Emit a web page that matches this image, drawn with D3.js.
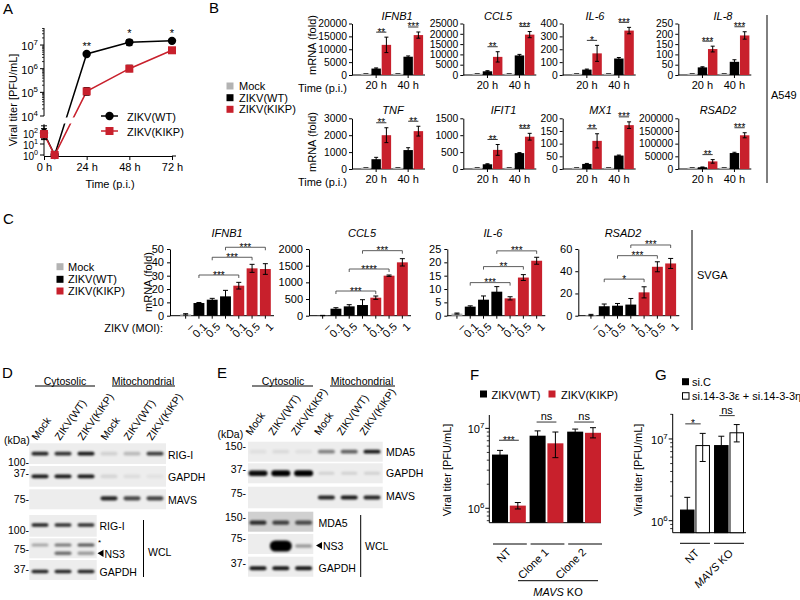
<!DOCTYPE html>
<html><head><meta charset="utf-8">
<script src="https://cdn.jsdelivr.net/npm/d3@7"></script>
<style>
body{margin:0;background:#fff;}
svg{display:block;font-family:"Liberation Sans",Arial,Helvetica,sans-serif;}
</style></head>
<body><svg id="fig" width="800" height="600"></svg>
<script>
// ================= DATA =================
// Panel A
const timesA = [0, 6, 24, 48, 72];
const timeTicksA = [0, 24, 48, 72];
const wtA = [100, 1, 4.2e6, 1.3e7, 1.5e7];
const wtLoA = [25, 1, 3.8e6, 9.5e6, 1.35e7];
const wtHiA = [450, 1, 4.6e6, 1.7e7, 1.7e7];
const kikpA = [80, 1, 1.1e5, 1.0e6, 6.0e6];
const kikpLoA = [30, 1, 7.5e4, 7.5e5, 4.6e6];
const kikpHiA = [250, 1, 1.6e5, 1.4e6, 7.8e6];
const sigTimesA = [24, 48, 72];
const sigA = ["**", "*", "*"];
const seriesA = ["ZIKV(WT)", "ZIKV(KIKP)"];

// Panel B
const genesB = ["IFNB1", "CCL5", "IL-6", "IL-8", "TNF", "IFIT1", "MX1", "RSAD2"];
const timesB = ["20 h", "40 h"];
const seriesB = ["Mock", "ZIKV(WT)", "ZIKV(KIKP)"];
const mockB = [[60,60],[80,80],[2,2],[1,1],[20,20],[10,10],[1,1],[300,300]];
const wtB = [[2500,7100],[1800,9500],[42,128],[37,64],[580,1120],[140,470],[20,53],[7000,63000]];
const wtErrB = [[250,300],[300,500],[4,8],[3,10],[110,140],[15,15],[2,2],[1000,3000]];
const kikpB = [[11700,15500],[8800,19600],[168,345],[126,192],[2000,2240],[565,955],[111,173],[30000,133000]];
const kikpErrB = [[3000,1200],[2500,1500],[62,25],[14,18],[440,290],[160,100],[28,13],[7000,10000]];
const yMaxB = [20000, 25000, 400, 250, 3000, 1500, 200, 200000];
const yStepB = [5000, 5000, 100, 50, 1000, 500, 50, 50000];
const sigB = [["**","***"],["**","***"],["*","***"],["***","***"],["**","**"],["**","***"],["**","***"],["**","***"]];

// Panel C
const genesC = ["IFNB1", "CCL5", "IL-6", "RSAD2"];
const moiC = ["–", "0.1", "0.5", "1", "0.1", "0.5", "1"];
const virusC = ["Mock", "ZIKV(WT)", "ZIKV(WT)", "ZIKV(WT)", "ZIKV(KIKP)", "ZIKV(KIKP)", "ZIKV(KIKP)"];
const valC = [[1, 9.5, 12, 14.5, 22.5, 35.5, 35], [5, 210, 280, 320, 540, 1200, 1600], [0.8, 3.4, 6.0, 9.0, 6.5, 14.3, 20.6], [0.6, 8.5, 9, 10, 21, 44, 47]];
const errC = [[0.5, 0.4, 1, 4.5, 2.5, 3, 4], [5, 30, 50, 160, 50, 20, 110], [0.2, 0.3, 1.4, 1.9, 0.6, 1.1, 1.3], [0.6, 2, 2, 5.5, 5, 4.5, 4.5]];
const yMaxC = [50, 2000, 25, 60];
const yStepC = [10, 500, 5, 20];
const bracketC = [[30.5, 43.8, 51.3], [740, 1400, 1950], [12.4, 18.4, 24.3], [32.9, 54, 63.6]];
const starsC = [["***","***","***"], ["***","****","***"], ["***","**","***"], ["*","***","***"]];

// Panels D/E (band intensities, 0..1)
const lanesDE = ["Mock", "ZIKV(WT)", "ZIKV(KIKP)", "Mock", "ZIKV(WT)", "ZIKV(KIKP)"];
const blotD_RIGI = [0.85, 0.8, 0.9, 0.12, 0.22, 0.75];
const blotD_GAPDH = [0.9, 0.9, 0.9, 0.1, 0.07, 0.05];
const blotD_MAVS = [0, 0, 0, 0.85, 0.7, 0.72];
const blotD_WCL_RIGI = [0.85, 0.8, 0.8];
const blotD_WCL_NS3star = [0.3, 0.5, 0.65];
const blotD_WCL_NS3 = [0, 0.55, 0.35];
const blotD_WCL_GAPDH = [0.85, 0.85, 0.85];
const blotE_MDA5 = [0.06, 0.08, 0.06, 0.45, 0.6, 0.9];
const blotE_GAPDH = [0.95, 1, 1, 0.12, 0.12, 0.12];
const blotE_MAVS = [0, 0, 0, 0.85, 0.9, 0.85];
const blotE_WCL_MDA5 = [0.8, 0.7, 0.65];
const blotE_WCL_NS3 = [0, 1, 0.35];
const blotE_WCL_GAPDH = [0.9, 0.9, 0.9];

// Panel F
const groupsF = ["NT", "Clone 1", "Clone 2"];
const fWT = [4.7e6, 8.1e6, 9.1e6];
const fWTLo = [4.1e6, 6.9e6, 8.4e6];
const fWTHi = [5.3e6, 9.3e6, 9.8e6];
const fKIKP = [1.08e6, 6.5e6, 8.8e6];
const fKIKPLo = [0.98e6, 4.3e6, 7.6e6];
const fKIKPHi = [1.18e6, 9.0e6, 1.02e7];
const sigF = ["***", "ns", "ns"];
const sigLevelF = [7.1e6, 1.2e7, 1.2e7];

// Panel G
const groupsG = ["NT", "MAVS KO"];
const gSiC = [1.35e6, 8.3e6];
const gSiCLo = [0.95e6, 6.2e6];
const gSiCHi = [1.93e6, 1.08e7];
const gSi1433 = [8.3e6, 1.19e7];
const gSi1433Lo = [5.3e6, 9.2e6];
const gSi1433Hi = [1.17e7, 1.5e7];
const sigG = ["*", "ns"];
const sigLevelG = [1.53e7, 1.93e7];

// ================= DRAWING =================
const RED = "#c8202c", GRAY = "#b3b3b3";
const svg = d3.select("#fig");
const defs = svg.append("defs");
defs.append("filter").attr("id", "blur").attr("x", "-50%").attr("y", "-100%").attr("width", "200%").attr("height", "300%")
  .append("feGaussianBlur").attr("stdDeviation", 0.9);

function txt(g, x, y, s, o = {}) {
  const t = g.append("text").attr("x", x).attr("y", y).text(s)
    .attr("font-size", o.size || 11).attr("text-anchor", o.anchor || "start")
    .attr("dominant-baseline", o.base || "central").attr("fill", o.fill || "#000");
  if (o.italic) t.attr("font-style", "italic");
  if (o.rotate != null) t.attr("transform", `rotate(${o.rotate},${x},${y})`);
  return t;
}
function pow10(g, x, y, e, size = 11) {
  const t = g.append("text").attr("x", x).attr("y", y).attr("font-size", size)
    .attr("text-anchor", "end").attr("dominant-baseline", "central");
  t.append("tspan").text("10");
  t.append("tspan").attr("dy", -4).attr("font-size", size * 0.72).text(e);
  return t;
}
function line(g, x1, y1, x2, y2, w = 1, c = "#000") {
  return g.append("line").attr("x1", x1).attr("y1", y1).attr("x2", x2).attr("y2", y2)
    .attr("stroke", c).attr("stroke-width", w);
}
function styleAxis(sel, size = 11) {
  sel.attr("font-family", null).attr("font-size", size);
  sel.selectAll("text").attr("fill", "#000");
  sel.selectAll("line,path").attr("stroke", "#000");
}
function errBar(g, x, y1, y2, cap = 5) {
  line(g, x, y1, x, y2, 1);
  line(g, x - cap / 2, y1, x + cap / 2, y1, 1);
  line(g, x - cap / 2, y2, x + cap / 2, y2, 1);
  return g;
}
function stars(g, cx, lineY, s, size = 11) {
  if (s === "ns") txt(g, cx, lineY - 6, s, { anchor: "middle", size: 11 });
  else txt(g, cx, lineY + 3.5, s, { anchor: "middle", size, base: "alphabetic" });
}

// panel letters
[["A", 3, 14], ["B", 209, 13], ["C", 3, 224], ["D", 2, 378], ["E", 217, 378], ["F", 470, 380], ["G", 655, 380]]
  .forEach(([s, x, y]) => txt(svg, x, y, s, { size: 15, base: "alphabetic" }));

// ---------- Panel A ----------
(function () {
  const g = svg.append("g");
  const x = d3.scaleLinear().domain([0, 72]).range([44, 172]);
  const yl = d3.scaleLinear().domain([0, 2.8, 4, 7.72]).range([155, 124.2, 116, 28]);
  const y = v => yl(Math.log10(v));
  line(g, 44, 28, 44, 116);
  line(g, 44, 124.2, 44, 156);
  [4, 5, 6, 7].forEach(k => { line(g, 40, yl(k), 44, yl(k)); pow10(g, 38, yl(k) + 1, k); });
  [0, 1, 2].forEach(k => { line(g, 40, yl(k), 44, yl(k)); pow10(g, 38, yl(k) + 1, k, 10); });
  for (let k = 4; k <= 7; k++) for (let m = 2; m <= 9; m++) {
    const v = k + Math.log10(m); if (v <= 7.72) line(g, 42, yl(v), 44, yl(v), 0.8);
  }
  g.append("g").attr("transform", "translate(0,156)")
    .call(d3.axisBottom(x).tickValues(timeTicksA).tickFormat(d => d + " h").tickSize(4).tickSizeOuter(0)).call(styleAxis);
  line(g, 172, 156, 176, 156);
  txt(g, 110, 184, "Time (p.i.)", { anchor: "middle" });
  txt(g, 13, 100, "Viral titer [PFU/mL]", { anchor: "middle", rotate: -90 });
  const cp = defs.append("clipPath").attr("id", "clipA");
  cp.append("rect").attr("x", 0).attr("y", 0).attr("width", 200).attr("height", 117.5);
  cp.append("rect").attr("x", 0).attr("y", 123.5).attr("width", 200).attr("height", 60);
  const pg = g.append("g").attr("clip-path", "url(#clipA)");
  const mk = (vals) => timesA.map((t, i) => ({ t, v: vals[i] }));
  const ln = d3.line().x(d => x(d.t)).y(d => y(d.v));
  pg.append("path").attr("d", ln(mk(wtA))).attr("fill", "none").attr("stroke", "#000").attr("stroke-width", 1.5);
  pg.append("path").attr("d", ln(mk(kikpA))).attr("fill", "none").attr("stroke", RED).attr("stroke-width", 1.5);
  timesA.forEach((t, i) => {
    if (wtLoA[i] !== wtHiA[i]) errBar(g, x(t), y(wtLoA[i]), y(wtHiA[i]), 6);
    if (kikpLoA[i] !== kikpHiA[i]) errBar(g, x(t), y(kikpLoA[i]), y(kikpHiA[i]), 6);
  });
  g.selectAll(null).data(timesA).join("circle").attr("cx", d => x(d)).attr("cy", (d, i) => y(wtA[i])).attr("r", 4.2).attr("fill", "#000");
  g.selectAll(null).data(timesA).join("rect").attr("x", d => x(d) - 4).attr("y", (d, i) => y(kikpA[i]) - 4)
    .attr("width", 8).attr("height", 8).attr("fill", RED);
  sigTimesA.forEach((t, i) => {
    const idx = timesA.indexOf(t);
    txt(g, x(t), y(wtHiA[idx]) - 3, sigA[i], { anchor: "middle", base: "alphabetic" });
  });
  line(g, 101, 116, 118, 116, 1.5);
  g.append("circle").attr("cx", 109.5).attr("cy", 116).attr("r", 4.2).attr("fill", "#000");
  txt(g, 127, 116.5, seriesA[0]);
  line(g, 101, 131, 118, 131, 1.5, RED);
  g.append("rect").attr("x", 105.5).attr("y", 127).attr("width", 8).attr("height", 8).attr("fill", RED);
  txt(g, 127, 131.5, seriesA[1]);
})();

// ---------- Panel B ----------
const layB = {
  x0: [352, 463.3, 562.7, 678.3, 352, 463.3, 562.7, 678.3],
  yTop: [23.5, 23.5, 23.5, 23.5, 118.3, 118.3, 118.3, 118.3],
  yBot: [75, 75, 75, 75, 169, 169, 169, 169],
  titleX: [397, 498, 595, 723, 393, 503.5, 600.5, 718],
  titleY: [16, 16, 16, 16, 110, 110, 110, 110]
};
function chartB(i) {
  const x0 = layB.x0[i], yT = layB.yTop[i], yB = layB.yBot[i];
  const g = svg.append("g");
  const y = d3.scaleLinear().domain([0, yMaxB[i]]).range([yB, yT]);
  const xo = d3.scaleBand().domain(timesB).range([x0 + 8.8, x0 + 71.5]).paddingInner(0.04);
  const xi = d3.scaleBand().domain(seriesB).range([0, xo.bandwidth()]);
  g.append("g").attr("transform", `translate(${x0},0)`)
    .call(d3.axisLeft(y).tickValues(d3.range(0, yMaxB[i] + 1e-9, yStepB[i])).tickFormat(d3.format("d")).tickSize(3).tickSizeOuter(0).tickPadding(2))
    .call(s => styleAxis(s, 10.3));
  const bx = g.append("g").attr("transform", `translate(0,${yB})`)
    .call(d3.axisBottom(xo).tickSize(3).tickSizeOuter(0).tickPadding(3)).call(styleAxis);
  bx.select(".domain").remove();
  line(g, x0, yB, x0 + 73, yB);
  timesB.forEach((t, ti) => {
    const vals = [mockB[i][ti], wtB[i][ti], kikpB[i][ti]];
    const errs = [0, wtErrB[i][ti], kikpErrB[i][ti]];
    const cols = [GRAY, "#000", RED];
    seriesB.forEach((s, si) => {
      const bxp = xo(t) + xi(s);
      const h = Math.max(1.3, yB - y(vals[si]));
      g.append("rect").attr("x", bxp + 0.4).attr("y", yB - h).attr("width", xi.bandwidth() - 0.8).attr("height", h).attr("fill", cols[si]);
      const cx = bxp + xi.bandwidth() / 2;
      if (si === 0) line(g, cx - 2.5, yB - 1.5, cx + 2.5, yB - 1.5, 1, "#444");
      else errBar(g, cx, y(vals[si] + errs[si]), y(vals[si] - errs[si]), 4);
    });
    const c1 = xo(t) + xi(seriesB[1]) + xi.bandwidth() / 2, c2 = xo(t) + xi(seriesB[2]) + xi.bandwidth() / 2;
    const ly = Math.min(y(vals[1] + errs[1]), y(vals[2] + errs[2])) - 5;
    line(g, c1, ly, c2, ly, 0.8);
    stars(g, (c1 + c2) / 2, ly, sigB[i][ti], 10);
  });
  txt(g, layB.titleX[i], layB.titleY[i], genesB[i], { anchor: "middle", italic: true });
}
genesB.forEach((d, i) => chartB(i));
txt(svg, 347, 88, "Time (p.i.)", { anchor: "end" });
txt(svg, 347, 182, "Time (p.i.)", { anchor: "end" });
txt(svg, 312, 45, "mRNA (fold)", { anchor: "middle", rotate: -90 });
txt(svg, 312, 142, "mRNA (fold)", { anchor: "middle", rotate: -90 });
line(svg, 767, 15, 767, 183);
txt(svg, 771, 95, "A549");
[[GRAY, 86], ["#000", 97.7], [RED, 109.3]].forEach(([c, yy], k) => {
  svg.append("rect").attr("x", 226.5).attr("y", yy - 3.5).attr("width", 7).attr("height", 7).attr("fill", c);
  txt(svg, 239, yy, seriesB[k]);
});

// ---------- Panel C ----------
const layC = { x0: [170, 309, 447.3, 578.3], off: [9, 7, 3, 6], yTop: 249, yBot: 315.7, titleX: [227, 362, 493, 623], titleY: 233 };
function chartC(i) {
  const x0 = layC.x0[i], yT = layC.yTop, yB = layC.yBot;
  const g = svg.append("g");
  const y = d3.scaleLinear().domain([0, yMaxC[i]]).range([yB, yT]);
  const x = d3.scaleBand().domain(d3.range(moiC.length)).range([x0 + layC.off[i], x0 + layC.off[i] + 93]).paddingInner(0.18).paddingOuter(0.09);
  g.append("g").attr("transform", `translate(${x0},0)`)
    .call(d3.axisLeft(y).tickValues(d3.range(0, yMaxC[i] + 1e-9, yStepC[i])).tickFormat(d3.format("d")).tickSize(3).tickSizeOuter(0))
    .call(styleAxis);
  line(g, x0, yB, x0 + layC.off[i] + 95, yB);
  valC[i].forEach((v, k) => {
    const col = virusC[k] === "Mock" ? GRAY : (virusC[k] === "ZIKV(WT)" ? "#000" : RED);
    const cx = x(k) + x.bandwidth() / 2;
    g.append("rect").attr("x", x(k)).attr("y", y(v)).attr("width", x.bandwidth()).attr("height", yB - y(v)).attr("fill", col);
    errBar(g, cx, y(v + errC[i][k]), y(Math.max(0, v - errC[i][k])), 5);
    line(g, cx, yB, cx, yB + 3);
    txt(g, cx + 6, yB + 9, moiC[k], { anchor: "end", rotate: -45 });
  });
  [[1, 4], [2, 5], [3, 6]].forEach(([a, b], k) => {
    const xa = x(a) + x.bandwidth() / 2, xb = x(b) + x.bandwidth() / 2, ly = y(bracketC[i][k]);
    g.append("path").attr("d", `M${xa},${ly + 3}V${ly}H${xb}V${ly + 3}`).attr("fill", "none").attr("stroke", "#333").attr("stroke-width", 0.8);
    stars(g, (xa + xb) / 2, ly, starsC[i][k], 10);
  });
  txt(g, layC.titleX[i], layC.titleY, genesC[i], { anchor: "middle", italic: true });
}
genesC.forEach((d, i) => chartC(i));
txt(svg, 148, 282, "mRNA (fold)", { anchor: "middle", rotate: -90 });
txt(svg, 163, 328, "ZIKV (MOI):", { anchor: "end" });
line(svg, 692, 230, 692, 330);
txt(svg, 697, 275, "SVGA");
[[GRAY, 266.7], ["#000", 279.3], [RED, 291]].forEach(([c, yy], k) => {
  svg.append("rect").attr("x", 56.5).attr("y", yy - 3.5).attr("width", 7).attr("height", 7).attr("fill", c);
  txt(svg, 68, yy, seriesB[k]);
});

// ---------- Panels D / E (blots) ----------
function blot(g, lanes, x, y, w, h, vals, o = {}) {
  g.append("rect").attr("x", x).attr("y", y).attr("width", w).attr("height", h).attr("fill", o.bg || "#ededed");
  const bw = o.bw || 17, bh = o.bh || 3.6;
  vals.forEach((v, i) => {
    if (v <= 0) return;
    const ww = (o.bwArr ? o.bwArr[i] : bw), hh = (o.bhArr ? o.bhArr[i] : bh);
    g.append("rect").attr("x", lanes(i) - ww / 2).attr("y", y + h / 2 - hh / 2 + (o.dy || 0))
      .attr("width", ww).attr("height", hh).attr("rx", hh / 2)
      .attr("fill", "#000").attr("fill-opacity", v).attr("filter", "url(#blur)");
  });
}
function header(g, cx1, cx2, xl1, xr1, xl2, xr2) {
  txt(g, cx1, 380.5, "Cytosolic", { anchor: "middle", size: 10.5 });
  txt(g, cx2, 380.5, "Mitochondrial", { anchor: "middle", size: 10.5 });
  line(g, xl1, 386, xr1, 386); line(g, xl2, 386, xr2, 386);
}
function laneLabels(g, lanes, yb, dx) {
  lanesDE.forEach((s, i) => {
    const xx = lanes(i) + dx;
    g.append("text").attr("x", xx).attr("y", yb).attr("font-size", 10.5).text(s)
      .attr("transform", `rotate(-55,${xx},${yb})`);
  });
}
function ns3Label(g, x, y) {
  g.append("path").attr("d", `M${x},${y}L${x + 6},${y - 3.6}L${x + 6},${y + 3.6}Z`).attr("fill", "#000");
  txt(g, x + 7, y + 0.5, "NS3", { size: 10.5 });
}
(function () {
  const g = svg.append("g");
  const lanes = d3.scalePoint().domain(d3.range(6)).range([40, 155]);
  header(g, 65, 143, 35, 95, 112, 175);
  laneLabels(g, lanes, 441, -3);
  blot(g, lanes, 29.3, 443.3, 136.7, 20.7, blotD_RIGI, { bh: 3.6 });
  blot(g, lanes, 29.3, 466, 136.7, 20.7, blotD_GAPDH, { bh: 3.8 });
  blot(g, lanes, 29.3, 489.3, 136.7, 20, blotD_MAVS, { bh: 4.2, dy: -1 });
  blot(g, lanes, 29.3, 515, 67.4, 21.7, blotD_WCL_RIGI, { bh: 3.6, dy: -0.8 });
  blot(g, lanes, 29.3, 538.3, 67.4, 20, blotD_WCL_NS3star, { bh: 3.2, dy: -3.3 });
  blotD_WCL_NS3.forEach((v, i) => {
    if (v <= 0) return;
    g.append("rect").attr("x", lanes(i) - 8.5).attr("y", 553.3 - 1.7).attr("width", 17).attr("height", 3.4).attr("rx", 1.7)
      .attr("fill", "#000").attr("fill-opacity", v).attr("filter", "url(#blur)");
  });
  blot(g, lanes, 29.3, 560, 67.4, 20, blotD_WCL_GAPDH, { bh: 3.6, dy: 1.5 });
  [["RIG-I", 455], ["GAPDH", 477], ["MAVS", 500]].forEach(([s, yy]) => txt(g, 168, yy, s, { size: 10.5 }));
  txt(g, 99.5, 525.5, "RIG-I", { size: 10.5 });
  txt(g, 98, 542.5, "*", { size: 8 });
  ns3Label(g, 97.5, 553.3);
  txt(g, 99.5, 571.7, "GAPDH", { size: 10.5 });
  line(g, 143.5, 520, 143.5, 577);
  txt(g, 148, 552, "WCL", { size: 10.5 });
  txt(g, 4, 440, "(kDa)", { size: 10.5 });
  [["100-", 461.7], ["37-", 473.3], ["75-", 499.3], ["100-", 530], ["75-", 549.3], ["37-", 569.3]]
    .forEach(([s, yy]) => txt(g, 29, yy, s, { size: 10.5, anchor: "end" }));
})();
(function () {
  const g = svg.append("g");
  const lanes = d3.scalePoint().domain(d3.range(6)).range([258, 372]);
  header(g, 283, 362, 252, 313, 330, 395);
  laneLabels(g, lanes, 436, -7);
  blot(g, lanes, 248, 441.7, 134.7, 20, blotE_MDA5, { bh: 3.8 });
  blot(g, lanes, 248, 463.3, 134.7, 20, blotE_GAPDH, { bwArr: [19, 19, 19, 16, 16, 16], bhArr: [5.5, 6, 6, 3, 3, 3] });
  blot(g, lanes, 248, 486.7, 134.7, 21.6, blotE_MAVS, { bh: 4.2 });
  blot(g, lanes, 248, 511.7, 65.3, 20, blotE_WCL_MDA5, { bg: "#d0d0d0", bh: 4.2, dy: 1 });
  blot(g, lanes, 248, 534, 65.3, 20, blotE_WCL_NS3, { bwArr: [16, 22, 17], bhArr: [3, 11, 3.4], dy: 2 });
  blot(g, lanes, 248, 556.7, 65.3, 20, blotE_WCL_GAPDH, { bh: 4, dy: 1.5 });
  [["MDA5", 451.7], ["GAPDH", 473.3], ["MAVS", 496]].forEach(([s, yy]) => txt(g, 386, yy, s, { size: 10.5 }));
  txt(g, 318.5, 522.7, "MDA5", { size: 10.5 });
  ns3Label(g, 316, 545.5);
  txt(g, 318.5, 568.3, "GAPDH", { size: 10.5 });
  line(g, 360.7, 515, 360.7, 577);
  txt(g, 365, 545.5, "WCL", { size: 10.5 });
  txt(g, 217.5, 433.5, "(kDa)", { size: 10.5 });
  [["150-", 446], ["37-", 469.3], ["75-", 493.3], ["150-", 516.7], ["75-", 538.3], ["37-", 563.3]]
    .forEach(([s, yy]) => txt(g, 246, yy, s, { size: 10.5, anchor: "end" }));
})();

// ---------- Log axis helper ----------
function logAxis(g, x0, y, lo, hi) {
  line(g, x0, y(hi), x0, y(lo));
  for (let k = Math.floor(Math.log10(lo)); k <= Math.ceil(Math.log10(hi)); k++) {
    for (let m = 1; m <= 9; m++) {
      const v = m * Math.pow(10, k);
      if (v < lo || v > hi * 1.001) continue;
      if (m === 1) { line(g, x0 - 4, y(v), x0, y(v)); pow10(g, x0 - 5, y(v) + 1, k); }
      else line(g, x0 - 2.5, y(v), x0, y(v), 0.8);
    }
  }
}

// ---------- Panel F ----------
(function () {
  const g = svg.append("g");
  const lo = 6.6e5, hi = 1.47e7;
  const y = d3.scaleLog().domain([lo, hi]).range([522.7, 415]);
  const x0 = 489.3;
  logAxis(g, x0, y, lo, hi);
  line(g, x0, 522.7, 601, 522.7);
  const xo = d3.scaleBand().domain(groupsF).range([492, 601]).paddingInner(0.1);
  const xi = d3.scaleBand().domain(seriesA).range([0, xo.bandwidth()]).paddingInner(0.1);
  groupsF.forEach((gr, i) => {
    const vals = [fWT[i], fKIKP[i]], los = [fWTLo[i], fKIKPLo[i]], his = [fWTHi[i], fKIKPHi[i]];
    seriesA.forEach((s, si) => {
      const bx = xo(gr) + xi(s);
      g.append("rect").attr("x", bx).attr("y", y(vals[si])).attr("width", xi.bandwidth()).attr("height", 522.7 - y(vals[si]))
        .attr("fill", si ? RED : "#000");
      errBar(g, bx + xi.bandwidth() / 2, y(his[si]), y(los[si]), 6);
    });
    const c1 = xo(gr) + xi(seriesA[0]) + xi.bandwidth() / 2, c2 = xo(gr) + xi(seriesA[1]) + xi.bandwidth() / 2;
    const ly = y(sigLevelF[i]);
    line(g, c1 - 1, ly, c2 + 1, ly, 0.8);
    stars(g, (c1 + c2) / 2, ly, sigF[i], 10);
    const gc = xo(gr) + xo.bandwidth() / 2;
    line(g, xo(gr) + 1, 544, xo(gr) + xo.bandwidth() + 1, 544);
    txt(g, gc, 550, gr, { anchor: "end", rotate: -45 });
  });
  line(g, 518, 580.7, 598, 580.7);
  const t = g.append("text").attr("x", 558).attr("y", 592).attr("font-size", 11).attr("text-anchor", "middle").attr("dominant-baseline", "central");
  t.append("tspan").attr("font-style", "italic").text("MAVS");
  t.append("tspan").text(" KO");
  txt(g, 447, 470, "Viral titer [PFU/mL]", { anchor: "middle", rotate: -90 });
  g.append("rect").attr("x", 480).attr("y", 390.5).attr("width", 7).attr("height", 7).attr("fill", "#000");
  txt(g, 491.5, 394.5, seriesA[0]);
  g.append("rect").attr("x", 548.5).attr("y", 390.5).attr("width", 7).attr("height", 7).attr("fill", RED);
  txt(g, 561, 394.5, seriesA[1]);
})();

// ---------- Panel G ----------
(function () {
  const g = svg.append("g");
  const lo = 7.13e5, hi = 2.02e7;
  const y = d3.scaleLog().domain([lo, hi]).range([532.7, 414]);
  const x0 = 672.7;
  logAxis(g, x0, y, lo, hi);
  line(g, x0, 532.7, 746, 532.7);
  const ser = ["si.C", "si.14-3-3ε + si.14-3-3η"];
  const xo = d3.scaleBand().domain(groupsG).range([680, 744]).paddingInner(0.12);
  const xi = d3.scaleBand().domain(ser).range([0, xo.bandwidth()]).paddingInner(0.06);
  groupsG.forEach((gr, i) => {
    const vals = [gSiC[i], gSi1433[i]], los = [gSiCLo[i], gSi1433Lo[i]], his = [gSiCHi[i], gSi1433Hi[i]];
    ser.forEach((s, si) => {
      const bx = xo(gr) + xi(s);
      g.append("rect").attr("x", bx + 0.5).attr("y", y(vals[si])).attr("width", xi.bandwidth() - 1).attr("height", 532.7 - y(vals[si]))
        .attr("fill", si ? "#fff" : "#000").attr("stroke", "#000").attr("stroke-width", 1);
      errBar(g, bx + xi.bandwidth() / 2, y(his[si]), y(los[si]), 6);
    });
    const c1 = xo(gr) + xi(ser[0]) + xi.bandwidth() / 2, c2 = xo(gr) + xi(ser[1]) + xi.bandwidth() / 2;
    const ly = y(sigLevelG[i]);
    line(g, c1 - 2, ly, c2 - 2, ly, 0.8);
    stars(g, (c1 + c2) / 2 - 2, ly, sigG[i], 10);
    line(g, xo(gr), 543.3, xo(gr) + xo.bandwidth(), 543.3);
    const gc = xo(gr) + xo.bandwidth() / 2 + 2;
    const t = g.append("text").attr("x", gc).attr("y", 551).attr("font-size", 11).attr("text-anchor", "end")
      .attr("dominant-baseline", "central").attr("transform", `rotate(-45,${gc},551)`);
    if (gr.startsWith("MAVS")) { t.append("tspan").attr("font-style", "italic").text("MAVS"); t.append("tspan").text(" KO"); }
    else t.text(gr);
  });
  txt(g, 638, 470, "Viral titer [PFU/mL]", { anchor: "middle", rotate: -90 });
  g.append("rect").attr("x", 682).attr("y", 378.2).attr("width", 7).attr("height", 7).attr("fill", "#000");
  txt(g, 692, 382, ser[0]);
  g.append("rect").attr("x", 682.5).attr("y", 392.7).attr("width", 6.5).attr("height", 6.5).attr("fill", "#fff").attr("stroke", "#000");
  txt(g, 692, 396, ser[1]);
})();
</script></body></html>
